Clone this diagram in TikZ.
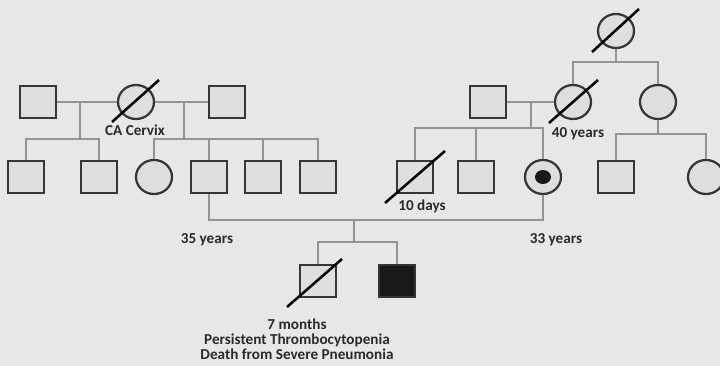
\documentclass[tikz,border=0pt]{standalone}
\usepackage{fontspec}
\setmainfont{Carlito}
\usepackage{tikz}
\usetikzlibrary{calc}
\usetikzlibrary{shapes}

\definecolor{bggrey}{HTML}{E7E7E9}
\definecolor{nodegrey}{HTML}{DEDEDF}
\definecolor{bordergrey}{HTML}{363636}
\definecolor{linegrey}{HTML}{939393}
\definecolor{textgrey}{HTML}{2A2A2A}

\begin{document}
\begin{tikzpicture}[x=0.025cm, y=-0.025cm]
	\tikzstyle{every text node part}=[font=\bfseries\fontsize{10.8}{11}\selectfont, text = textgrey]
	\tikzset{male/.style = {rectangle, draw = bordergrey, line width = 1.6pt, fill = nodegrey, minimum width = 0.9cm, minimum height = 0.8cm, inner sep = 0pt}}
	\tikzset{female/.style = {ellipse, draw = bordergrey, line width = 1.6pt, fill = nodegrey, minimum width = 0.9cm, minimum height = 0.85cm, inner sep = 0pt}}
	\tikzset{line/.style = {draw = linegrey, line width = 0.8pt}}
	\tikzset{deceased/.style = {line width = 1.8pt, black}}

%% Background
\fill[bggrey] (0,0) rectangle (720,366);
\useasboundingbox (0,0) rectangle (720,366);

%% Father's parents
\draw (38,102) node[male, name = gfa]{};
\draw (136,102) node[female, name = gma]{};
\draw (227,102) node[male, name = gfb]{};

%% Mother's side
\draw (616,31) node[female, name = ggm]{};
\draw (488,102) node[male, name = gfc]{};
\draw (573,102) node[female, name = gmc]{};
\draw (658,102) node[female, name = aunt]{};

%% Father's siblings
\draw (26,177) node[male, name = hsa]{};
\draw (99,177) node[male, name = hsb]{};
\draw (154,177) node[female, name = sisa]{};
\draw (209,177) node[male, name = father]{};
\draw (263,177) node[male, name = bra]{};
\draw (318,177) node[male, name = brb]{};

%% Mother's siblings and cousins
\draw (415,177) node[male, name = brc]{};
\draw (476,177) node[male, name = brd]{};
\draw (543,177) node[female, name = mother]{};
\fill[black!90] (mother.center) ellipse (8 and 7);
\draw (616,177) node[male, name = cza]{};
\draw (706,177) node[female, name = czb]{};

%% Children
\draw (318,281) node[male, name = sona]{};
\draw (397,281) node[male, fill = black!90, name = sonb]{};

%% Edges
\coordinate (mara) at (80,102);
\coordinate (siba) at (80,139);
\draw[line] (gfa.east) -- (gma.west);
\draw[line] (mara) -- (siba);
\draw[line] (hsa.north) |- (siba) -| (hsb.north);

\coordinate (marb) at (184,102);
\coordinate (sibb) at (184,139);
\draw[line] (gma.east) -- (gfb.west);
\draw[line] (marb) -- (sibb);
\draw[line] (sisa.north) |- (sibb) -| (brb.north);
\draw[line] (father.north) -- (father.north |- sibb);
\draw[line] (bra.north) -- (bra.north |- sibb);

\coordinate (sibg) at (616,62);
\draw[line] (ggm.south) -- (sibg);
\draw[line] (gmc.north) |- (sibg) -| (aunt.north);

\coordinate (marc) at (531,102);
\coordinate (sibc) at (531,128);
\draw[line] (gfc.east) -- (gmc.west);
\draw[line] (marc) -- (sibc);
\draw[line] (brc.north) |- (sibc) -| (mother.north);
\draw[line] (brd.north) -- (brd.north |- sibc);

\coordinate (sibd) at (658,134);
\draw[line] (aunt.south) -- (sibd);
\draw[line] (cza.north) |- (sibd) -| (czb.north);

\coordinate (couple) at (354,220);
\coordinate (sibe) at (354,242);
\draw[line] (father.south) |- (couple) -| (mother.south);
\draw[line] (couple) -- (sibe);
\draw[line] (sona.north) |- (sibe) -| (sonb.north);

%% Deceased marks
\draw[deceased] (gma.center) ++(-24,20) -- ++(47,-42);
\draw[deceased] (ggm.center) ++(-24,21) -- ++(47,-43);
\draw[deceased] (gmc.center) ++(-24,21) -- ++(49,-43);
\draw[deceased] (brc.center) ++(-30,26) -- ++(60,-52);
\draw[deceased] (sona.center) ++(-31,26) -- ++(55,-48);

%% Labels
\draw (135,130) node[name = cacervix]{CA Cervix};
\draw (578,134) node[name = agegmc]{40 years};
\draw (422,206) node[name = agebrc]{10 days};
\draw (207,240) node[name = agefather]{35 years};
\draw (556,240) node[name = agemother]{33 years};
\draw (297,339) node[name = sonanote, align = center]{7 months\\[-0.5pt]Persistent Thrombocytopenia\\[-0.5pt]Death from Severe Pneumonia};
\end{tikzpicture}
\end{document}
